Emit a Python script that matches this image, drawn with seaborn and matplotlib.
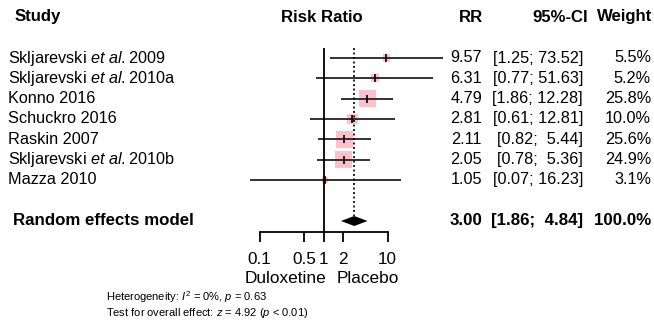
import numpy as np
import pandas as pd
import matplotlib
matplotlib.use("Agg")
import matplotlib.pyplot as plt
import matplotlib.transforms as mtransforms
import seaborn as sns

studies = ["Skljarevski et al. 2009", "Skljarevski et al. 2010a", "Konno 2016",
           "Schuckro 2016", "Raskin 2007", "Skljarevski et al. 2010b", "Mazza 2010"]
study_labels = [r"Skljarevski $\it{et\ al.}$2009", r"Skljarevski $\it{et\ al.}$2010a",
                "Konno 2016", "Schuckro 2016", "Raskin 2007",
                r"Skljarevski $\it{et\ al.}$2010b", "Mazza 2010"]
rr = [9.57, 6.31, 4.79, 2.81, 2.11, 2.05, 1.05]
lower = [1.25, 0.77, 1.86, 0.61, 0.82, 0.78, 0.07]
upper = [73.52, 51.63, 12.28, 12.81, 5.44, 5.36, 16.23]
weight = [5.5, 5.2, 25.8, 10.0, 25.6, 24.9, 3.1]
re_rr, re_lower, re_upper, re_weight = 3.00, 1.86, 4.84, 100.0
tick_vals = [0.1, 0.5, 1, 2, 10]
tick_labels = ["0.1", "0.5", "1", "2", "10"]

df = pd.DataFrame({"study": studies, "rr": rr, "lower": lower, "upper": upper,
                   "weight": weight, "row": np.arange(len(studies))})

sns.set_theme(style="white")
plt.rcParams['font.family'] = ['Liberation Sans', 'DejaVu Sans']
plt.rcParams['mathtext.fontset'] = 'custom'
plt.rcParams['mathtext.rm'] = 'Liberation Sans'
plt.rcParams['mathtext.it'] = 'Liberation Sans:italic'
plt.rcParams['mathtext.bf'] = 'Liberation Sans:bold'

W, H = 654, 329
fig = plt.figure(figsize=(W / 100, H / 100), dpi=100)
ax = fig.add_axes([0, 0, 1, 1])
ax.set_xscale("log")
x0, ppd = 323.7, 64.0
ax.set_xlim(10 ** (-x0 / ppd), 10 ** ((W - x0) / ppd))
y0, prow = 58.0, 20.3
ax.set_ylim((H - y0) / prow, -y0 / prow)
for s in ["top", "left", "right"]:
    ax.spines[s].set_visible(False)
ax.set_facecolor("none")

def prow_of(py):
    return (py - y0) / prow

re_row = prow_of(221)
axis_row = prow_of(232)

# Squares (area proportional to weight)
k = (17 * 0.72) ** 2 / 25.8
sns.scatterplot(data=df, x="rr", y="row", size="weight",
                sizes=(k * min(weight), k * max(weight)),
                size_norm=(min(weight), max(weight)),
                marker="s", color="#FFC0CB", linewidth=0, legend=False, ax=ax, zorder=2)
ax.hlines(df["row"], df["lower"], df["upper"], color="#222222", lw=1.3, zorder=3)
ax.scatter(df["rr"], df["row"], marker="|", s=30, color="black", lw=1.2, zorder=4)

ax.fill([re_lower, re_rr, re_upper, re_rr],
        [re_row, re_row - 5 / prow, re_row, re_row + 5 / prow], color="black", zorder=4, lw=0)

ax.vlines(1, prow_of(48), axis_row, color="black", lw=1.3, zorder=3)
ax.vlines(re_rr, prow_of(48), re_row - 5 / prow, color="black", lw=1.2,
          linestyles=(0, (1.2, 1.5)), zorder=3)

ax.spines["bottom"].set_position(("data", axis_row))
ax.spines["bottom"].set_bounds(0.1, 10)
ax.spines["bottom"].set_color("black")
ax.spines["bottom"].set_linewidth(1.3)
ax.set_xticks(tick_vals)
ax.set_xticklabels(tick_labels)
ax.xaxis.set_minor_locator(matplotlib.ticker.NullLocator())
ax.tick_params(axis="x", which="major", direction="out", length=7.2, width=1.3,
               color="black", bottom=True, labelsize=12.3, pad=7.5, labelcolor="black")
ax.set_yticks([])
ax.set_xlabel("")
ax.set_ylabel("")

tr = mtransforms.blended_transform_factory(ax.transAxes, ax.transData)
fs = 11.7

def T(px, row, s, ha="left", size=fs, **kw):
    ax.text(px / W, row, s, transform=tr, ha=ha, va="center", fontsize=size,
            color="black", **kw)

hrow = prow_of(17)
hfs = 12.1
T(15, hrow, "Study", weight="bold", size=hfs)
T(322, hrow, "Risk Ratio", ha="center", weight="bold", size=hfs)
T(483, hrow, "RR", ha="right", weight="bold", size=hfs)
T(588, hrow, "95%-CI", ha="right", weight="bold", size=hfs)
T(652, hrow, "Weight", ha="right", weight="bold", size=hfs)

for i, lab in enumerate(study_labels):
    T(8, i, lab)
    T(482, i, f"{rr[i]:.2f}", ha="right")
    lo_s = f"{lower[i]:.2f}"
    hi_s = f"{upper[i]:.2f}"
    pad = "  " if len(hi_s) < 5 else " "
    T(583, i, f"[{lo_s};{pad}{hi_s}]", ha="right")
    T(651, i, f"{weight[i]:.1f}%", ha="right")

bfs = 12.2
T(13, re_row, "Random effects model", weight="bold", size=bfs)
T(482, re_row, f"{re_rr:.2f}", ha="right", weight="bold", size=bfs)
T(583, re_row, f"[{re_lower:.2f};  {re_upper:.2f}]", ha="right", weight="bold", size=bfs)
T(651, re_row, f"{re_weight:.1f}%", ha="right", weight="bold", size=bfs)

T(286, prow_of(278.5), "Duloxetine", ha="center", size=12.4)
T(368, prow_of(278.5), "Placebo", ha="center", size=12.4)

ax.text(106 / W, prow_of(297.5), r"Heterogeneity: $I^2$ = 0%, $p$ = 0.63", transform=tr,
        ha="left", va="center", fontsize=8.0, color="black")
ax.text(106 / W, prow_of(313), r"Test for overall effect: $z$ = 4.92 ($p$ < 0.01)", transform=tr,
        ha="left", va="center", fontsize=8.0, color="black")

fig.savefig("out.png", dpi=100, facecolor="white")
